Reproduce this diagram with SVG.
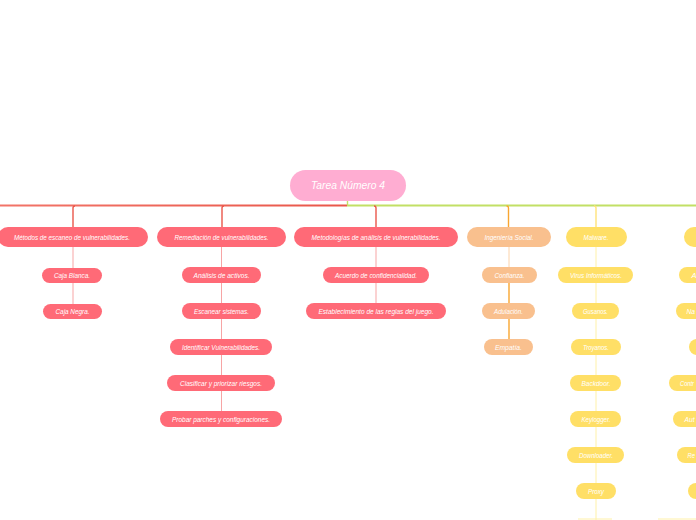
<svg xmlns="http://www.w3.org/2000/svg" width="696" height="520" viewBox="0 0 696 520">
<defs>
<linearGradient id="redline" gradientUnits="userSpaceOnUse" x1="0" y1="0" x2="347" y2="0">
<stop offset="0" stop-color="#F27468"/>
<stop offset="1" stop-color="#E9574A"/>
</linearGradient>
</defs>
<style>
text{font-family:"Liberation Sans","DejaVu Sans",sans-serif;font-style:italic;fill:#ffffff;text-anchor:middle;}
.t1{font-size:8px;}
.t2{font-size:7.5px;}
.root{fill:#FFADD2;}
.red{fill:#FF6A77;}
.org{fill:#F9C08E;}
.yel{fill:#FFDF66;}
.cr{stroke:#EA574B;stroke-width:1.4;fill:none;}
.crl{stroke:#F7A5A5;stroke-width:1;fill:none;}
.co{stroke:#F9A630;stroke-width:1.4;fill:none;}
.col{stroke:#FCD3AA;stroke-width:1;fill:none;}
.cy{stroke:#FFE37A;stroke-width:1.4;fill:none;}
.cyl{stroke:#FFF1A8;stroke-width:1;fill:none;}
</style>
<rect width="696" height="520" fill="#ffffff"/>
<g id="connectors">
<rect x="0" y="204.5" width="347" height="2" fill="url(#redline)"/>
<rect x="347" y="204.5" width="349" height="2" fill="#C2E065"/>
<line x1="347.5" y1="201" x2="347.5" y2="205" stroke="#C2E065" stroke-width="1.4"/>
<path class="cr" d="M73,227 V208 Q73,206 75,206"/>
<path class="cr" d="M222,227 V208 Q222,206 224,206"/>
<path class="cr" d="M376,227 V208 Q376,206 374,206"/>
<path class="co" d="M508.5,227 V208 Q508.5,206 506.5,206"/>
<path class="cy" d="M596,227 V208 Q596,206 594,206"/>
<line class="crl" x1="73" y1="247" x2="73" y2="304"/>
<line class="crl" x1="221.5" y1="247" x2="221.5" y2="412"/>
<line class="crl" x1="376" y1="247" x2="376" y2="304"/>
<line class="col" x1="509" y1="247" x2="509" y2="268"/>
<line class="co" x1="509" y1="283" x2="509" y2="340" stroke-width="1"/>
<line class="cyl" x1="596" y1="247" x2="596" y2="520"/>
<line class="cyl" x1="578" y1="519" x2="612" y2="519"/>
<line class="cyl" x1="658" y1="519" x2="696" y2="519"/>
</g>
<g id="root"><rect class="root" x="290" y="170" width="116" height="31" rx="15.5"/><text x="348" y="189" style="font-size:10.5px" textLength="74" lengthAdjust="spacingAndGlyphs">Tarea Número 4</text></g>
<g id="n-metodos"><rect class="red" x="-2" y="227" width="150" height="20" rx="10"/><text class="t1" x="72" y="239.5" textLength="116" lengthAdjust="spacingAndGlyphs">Métodos de escaneo de vulnerabilidades.</text></g>
<g id="n-caja-blanca"><rect class="red" x="42" y="268" width="60" height="15" rx="7.5"/><text class="t2" x="72" y="278.2" textLength="36" lengthAdjust="spacingAndGlyphs">Caja Blanca.</text></g>
<g id="n-caja-negra"><rect class="red" x="43" y="304" width="59" height="15" rx="7.5"/><text class="t2" x="72.5" y="314.2" textLength="34" lengthAdjust="spacingAndGlyphs">Caja Negra.</text></g>
<g id="n-remediacion"><rect class="red" x="157" y="227" width="129" height="20" rx="10"/><text class="t1" x="221.5" y="239.5" textLength="94" lengthAdjust="spacingAndGlyphs">Remediación de vulnerabilidades.</text></g>
<g id="n-analisis"><rect class="red" x="182" y="267" width="79" height="16" rx="8"/><text class="t2" x="221.5" y="277.7" textLength="56" lengthAdjust="spacingAndGlyphs">Análisis de activos.</text></g>
<g id="n-escanear"><rect class="red" x="182" y="303" width="79" height="16" rx="8"/><text class="t2" x="221.5" y="313.7" textLength="55" lengthAdjust="spacingAndGlyphs">Escanear sistemas.</text></g>
<g id="n-identificar"><rect class="red" x="170" y="339" width="102" height="16" rx="8"/><text class="t2" x="221" y="349.7" textLength="78" lengthAdjust="spacingAndGlyphs">Identificar Vulnerabilidades.</text></g>
<g id="n-clasificar"><rect class="red" x="167" y="375" width="108" height="16" rx="8"/><text class="t2" x="221" y="385.7" textLength="82" lengthAdjust="spacingAndGlyphs">Clasificar y priorizar riesgos.</text></g>
<g id="n-probar"><rect class="red" x="160" y="411" width="122" height="16" rx="8"/><text class="t2" x="221" y="421.7" textLength="98" lengthAdjust="spacingAndGlyphs">Probar parches y configuraciones.</text></g>
<g id="n-metodologias"><rect class="red" x="294" y="227" width="164" height="20" rx="10"/><text class="t1" x="376" y="239.5" textLength="129" lengthAdjust="spacingAndGlyphs">Metodologías de análisis de vulnerabilidades.</text></g>
<g id="n-acuerdo"><rect class="red" x="323" y="267" width="106" height="16" rx="8"/><text class="t2" x="376" y="277.7" textLength="82" lengthAdjust="spacingAndGlyphs">Acuerdo de confidencialidad.</text></g>
<g id="n-establecimiento"><rect class="red" x="306" y="303" width="140" height="16" rx="8"/><text class="t2" x="376" y="313.7" textLength="115" lengthAdjust="spacingAndGlyphs">Establecimiento de las reglas del juego.</text></g>
<g id="n-ingenieria"><rect class="org" x="467" y="227" width="84" height="20" rx="10"/><text class="t1" x="509" y="239.5" textLength="49" lengthAdjust="spacingAndGlyphs">Ingeniería Social.</text></g>
<g id="n-confianza"><rect class="org" x="482" y="267" width="55" height="16" rx="8"/><text class="t2" x="509.5" y="277.7" textLength="30" lengthAdjust="spacingAndGlyphs">Confianza.</text></g>
<g id="n-adulacion"><rect class="org" x="482" y="303" width="53" height="16" rx="8"/><text class="t2" x="508.5" y="313.7" textLength="29" lengthAdjust="spacingAndGlyphs">Adulación.</text></g>
<g id="n-empatia"><rect class="org" x="484" y="339" width="49" height="16" rx="8"/><text class="t2" x="508.5" y="349.7" textLength="27" lengthAdjust="spacingAndGlyphs">Empatía.</text></g>
<g id="n-malware"><rect class="yel" x="566" y="227" width="61" height="20" rx="10"/><text class="t1" x="596" y="239.5" textLength="25" lengthAdjust="spacingAndGlyphs">Malware.</text></g>
<g id="n-virus"><rect class="yel" x="558" y="267" width="75" height="16" rx="8"/><text class="t2" x="596" y="277.7" textLength="52" lengthAdjust="spacingAndGlyphs">Virus Informáticos.</text></g>
<g id="n-gusanos"><rect class="yel" x="572" y="303" width="47" height="16" rx="8"/><text class="t2" x="595.5" y="313.7" textLength="25" lengthAdjust="spacingAndGlyphs">Gusanos.</text></g>
<g id="n-troyanos"><rect class="yel" x="571" y="339" width="50" height="16" rx="8"/><text class="t2" x="596" y="349.7" textLength="26" lengthAdjust="spacingAndGlyphs">Troyanos.</text></g>
<g id="n-backdoor"><rect class="yel" x="570" y="375" width="51" height="16" rx="8"/><text class="t2" x="596" y="385.7" textLength="29" lengthAdjust="spacingAndGlyphs">Backdoor.</text></g>
<g id="n-keylogger"><rect class="yel" x="570" y="411" width="51" height="16" rx="8"/><text class="t2" x="596" y="421.7" textLength="29" lengthAdjust="spacingAndGlyphs">Keylogger.</text></g>
<g id="n-downloader"><rect class="yel" x="567" y="447" width="57" height="16" rx="8"/><text class="t2" x="596" y="457.7" textLength="34" lengthAdjust="spacingAndGlyphs">Downloader.</text></g>
<g id="n-proxy"><rect class="yel" x="576" y="483" width="40" height="16" rx="8"/><text class="t2" x="596" y="493.7" textLength="16" lengthAdjust="spacingAndGlyphs">Proxy</text></g>
<g id="n-right"><rect class="yel" x="684" y="227" width="60" height="20" rx="10"/></g>
<g id="n-right-1"><rect class="yel" x="679" y="267" width="60" height="16" rx="8"/><text class="t2" x="691.5" y="277.7" style="text-anchor:start">A</text></g>
<g id="n-right-2"><rect class="yel" x="676" y="303" width="60" height="16" rx="8"/><text class="t2" x="686.5" y="313.7" style="text-anchor:start" textLength="8.5" lengthAdjust="spacingAndGlyphs">Na</text></g>
<g id="n-right-3"><rect class="yel" x="689" y="339" width="60" height="16" rx="8"/></g>
<g id="n-right-4"><rect class="yel" x="669" y="375" width="60" height="16" rx="8"/><text class="t2" x="680" y="385.7" style="text-anchor:start" textLength="14" lengthAdjust="spacingAndGlyphs">Contr</text></g>
<g id="n-right-5"><rect class="yel" x="673" y="411" width="60" height="16" rx="8"/><text class="t2" x="684.5" y="421.7" style="text-anchor:start" textLength="10" lengthAdjust="spacingAndGlyphs">Aut</text></g>
<g id="n-right-6"><rect class="yel" x="677" y="447" width="60" height="16" rx="8"/><text class="t2" x="687.5" y="457.7" style="text-anchor:start" textLength="7.5" lengthAdjust="spacingAndGlyphs">Re</text></g>
<g id="n-right-7"><rect class="yel" x="688" y="483" width="60" height="16" rx="8"/></g>
</svg>
